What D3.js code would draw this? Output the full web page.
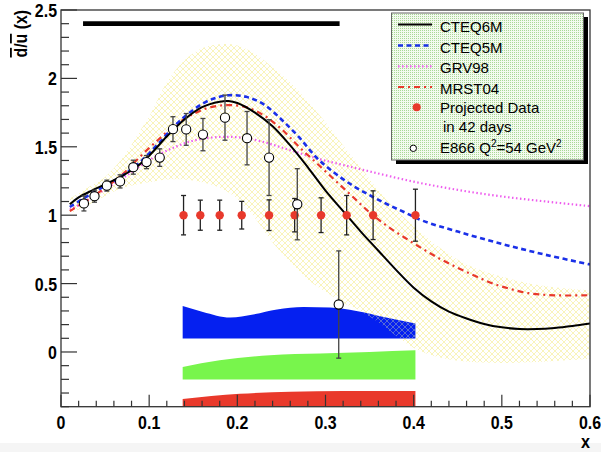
<!DOCTYPE html>
<html><head><meta charset="utf-8">
<script src="https://cdn.jsdelivr.net/npm/d3@7"></script>
<style>
html,body{margin:0;padding:0;background:#fff;}
svg{display:block;}
</style></head>
<body>
<svg id="c" width="601" height="452"></svg>
<script>
// ---------- DATA ----------
const xTickVals = [0, 0.1, 0.2, 0.3, 0.4, 0.5, 0.6];
const xTickLabels = ["0", "0.1", "0.2", "0.3", "0.4", "0.5", "0.6"];
const yTickVals = [0, 0.5, 1, 1.5, 2, 2.5];
const yTickLabels = ["0", "0.5", "1", "1.5", "2", "2.5"];

const cteq6mX = [0.01,0.02,0.035,0.05,0.07,0.085,0.10,0.12,0.14,0.16,0.18,0.19,0.20,0.22,0.24,0.26,0.28,0.30,0.32,0.34,0.36,0.38,0.40,0.42,0.44,0.46,0.48,0.50,0.52,0.54,0.56,0.58,0.60];
const cteq6mY = [1.08,1.13,1.18,1.225,1.29,1.35,1.435,1.575,1.70,1.79,1.83,1.835,1.82,1.75,1.65,1.51,1.35,1.18,1.03,0.88,0.74,0.60,0.47,0.37,0.295,0.245,0.205,0.18,0.168,0.168,0.176,0.19,0.208];

const cteq5mX = [0.01,0.03,0.05,0.07,0.09,0.11,0.13,0.15,0.17,0.19,0.21,0.23,0.25,0.27,0.29,0.31,0.33,0.35,0.37,0.39,0.41,0.45,0.50,0.55,0.60];
const cteq5mY = [1.06,1.14,1.215,1.29,1.39,1.52,1.66,1.77,1.845,1.877,1.865,1.81,1.70,1.57,1.42,1.31,1.22,1.146,1.08,1.02,0.96,0.88,0.79,0.71,0.64];

const grv98X = [0.01,0.03,0.05,0.07,0.09,0.11,0.13,0.15,0.17,0.19,0.21,0.23,0.25,0.27,0.29,0.31,0.35,0.40,0.45,0.50,0.55,0.60];
const grv98Y = [1.04,1.11,1.19,1.27,1.36,1.44,1.50,1.545,1.567,1.573,1.563,1.535,1.495,1.455,1.415,1.383,1.32,1.245,1.185,1.137,1.10,1.066];

const mrst04X = [0.01,0.03,0.05,0.07,0.09,0.11,0.13,0.15,0.17,0.19,0.21,0.23,0.25,0.27,0.29,0.31,0.33,0.35,0.37,0.39,0.41,0.43,0.45,0.47,0.49,0.51,0.53,0.55,0.57,0.60];
const mrst04Y = [1.03,1.11,1.20,1.30,1.43,1.55,1.66,1.74,1.79,1.805,1.79,1.73,1.63,1.50,1.38,1.26,1.14,1.02,0.92,0.835,0.755,0.68,0.615,0.555,0.50,0.46,0.43,0.417,0.413,0.415];

const bandX  = [0.01,0.03,0.05,0.07,0.09,0.10,0.12,0.14,0.16,0.18,0.20,0.22,0.24,0.26,0.28,0.30,0.32,0.34,0.36,0.38,0.40,0.43,0.46,0.50,0.55,0.60];
const bandHi = [1.12,1.20,1.28,1.42,1.62,1.72,1.97,2.13,2.22,2.25,2.24,2.18,2.08,1.97,1.83,1.68,1.51,1.35,1.18,1.04,0.92,0.76,0.64,0.55,0.48,0.45];
const bandLo = [1.01,1.07,1.14,1.20,1.23,1.24,1.26,1.26,1.24,1.20,1.12,0.98,0.80,0.66,0.53,0.44,0.36,0.30,0.22,0.12,0.03,-0.04,-0.07,-0.08,-0.07,-0.05];

const e866X   = [0.026,0.038,0.052,0.067,0.082,0.097,0.112,0.127,0.142,0.161,0.186,0.211,0.236,0.268,0.315];
const e866Y   = [1.086,1.139,1.216,1.247,1.351,1.388,1.421,1.629,1.627,1.589,1.713,1.563,1.421,1.080,0.347];
const e866Err = [0.055,0.044,0.040,0.048,0.051,0.048,0.064,0.091,0.116,0.118,0.165,0.195,0.277,0.260,0.392];

const projX   = [0.139,0.158,0.180,0.205,0.236,0.265,0.295,0.324,0.354,0.402];
const projY   = [1,1,1,1,1,1,1,1,1,1];
const projErr = [0.144,0.110,0.110,0.101,0.112,0.122,0.127,0.144,0.178,0.190];

const blueBandX   = [0.138,0.161,0.192,0.218,0.245,0.275,0.305,0.335,0.366,0.402];
const blueBandTop = [0.336,0.293,0.252,0.274,0.310,0.329,0.325,0.300,0.256,0.208];
const blueBandBot = 0.098;
const greenBandX   = [0.138,0.18,0.237,0.294,0.35,0.402];
const greenBandTop = [-0.11,-0.061,-0.024,-0.012,0.0,0.012];
const greenBandBot = -0.202;
const redBandX   = [0.138,0.203,0.26,0.321,0.402];
const redBandTop = [-0.343,-0.306,-0.29,-0.285,-0.285];
const redBandBot = -0.4;

const barX = [0.025, 0.316];
const barY = 2.4;

const legendLabels = ["CTEQ6M","CTEQ5M","GRV98","MRST04"];

// ---------- DRAW ----------
const svg = d3.select("#c");
const W = 601, H = 452;
const x = d3.scaleLinear().domain([0, 0.6]).range([61, 590]);
const y = d3.scaleLinear().domain([-0.4, 2.5]).range([406.7, 10]);

svg.append("rect").attr("x",0).attr("y",0).attr("width",W).attr("height",H).attr("fill","#fff");
svg.append("rect").attr("x",0).attr("y",443).attr("width",W).attr("height",9).attr("fill","#f5f5f5");

const defs = svg.append("defs");
function mkHatch(id, col, w) {
  const p = defs.append("pattern").attr("id",id).attr("patternUnits","userSpaceOnUse").attr("width",6).attr("height",6);
  p.append("path").attr("d","M0,0 L6,6 M6,0 L0,6 M-1,5 L1,7 M5,-1 L7,1 M-1,1 L1,-1 M5,7 L7,5")
    .attr("stroke",col).attr("stroke-width",w).attr("fill","none");
}
mkHatch("hatch", "#f7ef9e", 0.7);
mkHatch("hatchB", "#4a62d8", 0.9);
const dots = defs.append("pattern").attr("id","dots").attr("patternUnits","userSpaceOnUse")
  .attr("width",2).attr("height",2);
dots.append("rect").attr("width",2).attr("height",2).attr("fill","#f3faef");
dots.append("rect").attr("width",1).attr("height",1).attr("fill","#a9d896");

const clip = defs.append("clipPath").attr("id","plotclip");
clip.append("rect").attr("x",61).attr("y",10).attr("width",529).attr("height",396.7);

function bandArea(xs, tops, bot) {
  return d3.area().x((d,i)=>x(xs[i])).y0(()=>y(bot)).y1((d,i)=>y(tops[i])).curve(d3.curveMonotoneX)(xs);
}
const blueD = bandArea(blueBandX, blueBandTop, blueBandBot);
defs.append("clipPath").attr("id","blueclip").append("path").attr("d", blueD);

const plot = svg.append("g").attr("clip-path","url(#plotclip)");

// coloured bands
plot.append("path").attr("d", blueD).attr("fill","#0520f0");
plot.append("path").attr("d", bandArea(greenBandX, greenBandTop, greenBandBot)).attr("fill","#78f54c");
plot.append("path").attr("d", bandArea(redBandX, redBandTop, redBandBot)).attr("fill","#e9392b");

// yellow hatched uncertainty band
const areaGen = d3.area().x((d,i)=>x(bandX[i])).y0((d,i)=>y(bandLo[i])).y1((d,i)=>y(bandHi[i])).curve(d3.curveCatmullRom);
plot.append("path").attr("d", areaGen(bandX)).attr("fill","url(#hatch)");
plot.append("g").attr("clip-path","url(#blueclip)").append("path").attr("d", areaGen(bandX)).attr("fill","url(#hatchB)");

// curves
function curve(xs, ys) {
  return d3.line().x((d,i)=>x(xs[i])).y((d,i)=>y(ys[i])).curve(d3.curveCatmullRom)(xs);
}
plot.append("path").attr("d", curve(grv98X, grv98Y)).attr("fill","none").attr("stroke","#ee5cee").attr("stroke-width",2.2).attr("stroke-dasharray","1.5,2.5");
plot.append("path").attr("d", curve(mrst04X, mrst04Y)).attr("fill","none").attr("stroke","#e8392c").attr("stroke-width",2.2).attr("stroke-dasharray","6,4,2,4");
plot.append("path").attr("d", curve(cteq5mX, cteq5mY)).attr("fill","none").attr("stroke","#1a30e8").attr("stroke-width",2.6).attr("stroke-dasharray","5,3.5");
plot.append("path").attr("d", curve(cteq6mX, cteq6mY)).attr("fill","none").attr("stroke","#000").attr("stroke-width",2);

// black bar
svg.append("line").attr("x1",x(barX[0])).attr("x2",x(barX[1])).attr("y1",y(barY)).attr("y2",y(barY))
  .attr("stroke","#000").attr("stroke-width",4.8);

// error bars helper
function errBars(xs, ys, es, color, w) {
  const g = svg.append("g").attr("stroke",color).attr("stroke-width",w).attr("fill","none");
  xs.forEach((xv,i)=>{
    const cx = x(xv), lo = y(ys[i]-es[i]), hi = y(ys[i]+es[i]);
    g.append("line").attr("x1",cx).attr("x2",cx).attr("y1",lo).attr("y2",hi);
    g.append("line").attr("x1",cx-2.5).attr("x2",cx+2.5).attr("y1",lo).attr("y2",lo);
    g.append("line").attr("x1",cx-2.5).attr("x2",cx+2.5).attr("y1",hi).attr("y2",hi);
  });
}
errBars(projX, projY, projErr, "#222", 1.3);
svg.append("g").selectAll("circle").data(projX).join("circle")
  .attr("cx",d=>x(d)).attr("cy",(d,i)=>y(projY[i])).attr("r",4.2).attr("fill","#e8392c");

errBars(e866X, e866Y, e866Err, "#444", 1.3);
svg.append("g").selectAll("circle").data(e866X).join("circle")
  .attr("cx",d=>x(d)).attr("cy",(d,i)=>y(e866Y[i])).attr("r",4.6)
  .attr("fill","#fff").attr("stroke","#000").attr("stroke-width",1.1);

// axes
const tickFont = "'Liberation Sans',Arial,Helvetica,sans-serif";
const xMinor = d3.range(0, 0.6001, 0.02).map(v=>+v.toFixed(3));
const yMinor = d3.range(-0.4, 2.5001, 0.1).map(v=>+v.toFixed(3));
const axG = svg.append("g").attr("stroke","#333").attr("stroke-width",1.2);
xMinor.forEach(v=>{
  const major = xTickVals.some(t=>Math.abs(t-v)<1e-6);
  axG.append("line").attr("x1",x(v)).attr("x2",x(v)).attr("y1",y(-0.4)).attr("y2",y(-0.4)-(major?12:6));
});
yMinor.forEach(v=>{
  const major = yTickVals.some(t=>Math.abs(t-v)<1e-6);
  axG.append("line").attr("x1",x(0)).attr("x2",x(0)+(major?16:8)).attr("y1",y(v)).attr("y2",y(v));
});
// frame
svg.append("rect").attr("x",61).attr("y",10).attr("width",529).attr("height",396.7)
  .attr("fill","none").attr("stroke","#333").attr("stroke-width",1.3);

const SX = 0.84; // condensed look
svg.append("g").selectAll("text").data(xTickVals).join("text")
  .attr("transform",d=>`translate(${x(d)},429) scale(${SX},1)`).attr("text-anchor","middle")
  .attr("font-family",tickFont).attr("font-weight","bold").attr("font-size",19)
  .text((d,i)=>xTickLabels[i]);
svg.append("g").selectAll("text").data(yTickVals).join("text")
  .attr("transform",d=>`translate(57,${y(d)+7}) scale(${SX},1)`).attr("text-anchor","end")
  .attr("font-family",tickFont).attr("font-weight","bold").attr("font-size",19)
  .text((d,i)=>yTickLabels[i]);

svg.append("text").attr("transform","translate(590,448) scale(0.9,1)").attr("text-anchor","end")
  .attr("font-family",tickFont).attr("font-weight","bold").attr("font-size",18).text("x");

const yt = svg.append("text").attr("transform","translate(27,10) rotate(-90) scale(0.88,1)").attr("text-anchor","end")
  .attr("font-family",tickFont).attr("font-weight","bold").attr("font-size",18);
yt.append("tspan").attr("text-decoration","overline").text("d");
yt.append("tspan").text("/");
yt.append("tspan").attr("text-decoration","overline").text("u");
yt.append("tspan").text(" (x)");

// legend
const lg = svg.append("g");
lg.append("rect").attr("x",396).attr("y",17).attr("width",192).attr("height",147).attr("fill","#000");
lg.append("rect").attr("x",391.5).attr("y",13).attr("width",192).attr("height",147)
  .attr("fill","url(#dots)").attr("stroke","#666").attr("stroke-width",1);
const legFont = "'Liberation Sans',Arial,Helvetica,sans-serif";
const lineStyles = [
  {c:"#000",d:null,w:2},
  {c:"#1a30e8",d:"5,3.5",w:2.4},
  {c:"#ee5cee",d:"1.5,2.5",w:2.2},
  {c:"#e8392c",d:"6,4,2,4",w:2.2}
];
const legBase = [31.5, 52.5, 73.3, 94];
legendLabels.forEach((t,i)=>{
  const ly = legBase[i]-7;
  const l = lg.append("line").attr("x1",398).attr("x2",432).attr("y1",ly).attr("y2",ly)
    .attr("stroke",lineStyles[i].c).attr("stroke-width",lineStyles[i].w);
  if (lineStyles[i].d) l.attr("stroke-dasharray",lineStyles[i].d);
  lg.append("text").attr("x",440).attr("y",legBase[i]).attr("font-family",legFont).attr("font-size",15).text(t);
});
lg.append("circle").attr("cx",416.7).attr("cy",107.3).attr("r",4).attr("fill","#e8392c");
lg.append("text").attr("x",440).attr("y",112.5).attr("font-family",legFont).attr("font-size",15).text("Projected Data");
lg.append("text").attr("x",443).attr("y",131.5).attr("font-family",legFont).attr("font-size",15).text("in 42 days");
lg.append("circle").attr("cx",413.3).attr("cy",148.3).attr("r",3.2).attr("fill","#fff").attr("stroke","#000").attr("stroke-width",1);
const et = lg.append("text").attr("x",440).attr("y",153).attr("font-family",legFont).attr("font-size",15);
et.append("tspan").text("E866 Q");
et.append("tspan").attr("dy",-6).attr("font-size",10).text("2");
et.append("tspan").attr("dy",6).text("=54 GeV");
et.append("tspan").attr("dy",-6).attr("font-size",10).text("2");
</script>
</body></html>
